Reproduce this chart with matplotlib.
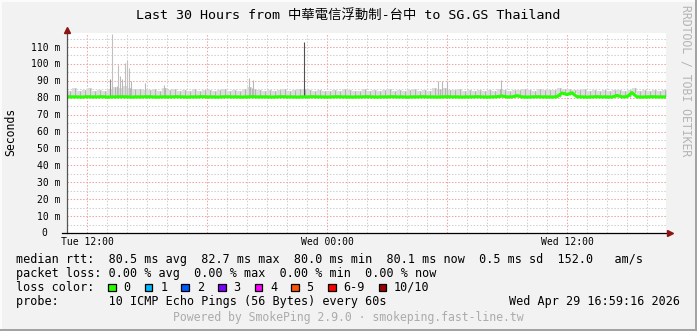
import numpy as np
import pandas as pd
import matplotlib
matplotlib.use("Agg")
import matplotlib.pyplot as plt
import matplotlib.transforms as mtransforms
from matplotlib.patches import Rectangle

W, H = 697, 331

# time axis: 30 hours ending Wed Apr 29 16:59:16 2026, one value every 15 min
start = pd.Timestamp("2026-04-28 10:59:16")
step_h = 0.25

# upper edge of the grey "smoke" (ms)
band_top = [
    84.2, 85.6, 83.9, 84.8, 85.9, 84.1, 84.6, 83.8, 85.2, 86.4, 85.8, 86.8,
    85.6, 84.9, 85.3, 84.4, 84.7, 85.1, 84.0, 85.8, 84.3, 84.9, 83.8, 84.5,
    84.1, 85.2, 83.9, 84.6, 84.8, 84.0, 84.5, 85.0, 83.9, 84.6, 84.2, 85.1,
    86.2, 84.9, 84.3, 84.0, 84.6, 83.8, 84.4, 85.3, 84.1, 84.7, 84.9, 85.4,
    84.3, 83.9, 84.8, 84.2, 83.8, 84.5, 84.1, 84.9, 84.4, 83.7, 84.2, 85.0,
    84.0, 84.6, 83.9, 84.3, 85.1, 84.2, 84.7, 83.9, 84.4, 84.9, 84.1, 84.6,
    84.2, 85.8, 85.2, 86.0, 84.7, 84.3, 84.9, 84.0, 84.5, 83.9, 84.6, 84.2,
    84.8, 84.1, 85.3, 84.4, 84.0, 84.7, 84.3, 84.9, 84.6, 84.2, 85.0, 84.3,
    84.8, 84.5, 85.6, 85.2, 85.4, 84.7, 84.3, 84.9, 84.2, 84.8, 84.0, 84.5,
    84.1, 84.6, 84.3, 84.0, 84.4, 85.5, 84.1, 84.6, 84.2, 84.7, 84.0, 84.4,
    84.3,
]

# median rtt (ms)
median = [
    80.6, 80.5, 80.5, 80.4, 80.6, 80.5, 80.5, 80.6, 80.4, 80.5,
    80.5, 80.6, 80.5, 80.4, 80.5, 80.5, 80.6, 80.5, 80.4, 80.5,
    80.5, 80.5, 80.6, 80.5, 80.4, 80.5, 80.5, 80.6, 80.5, 80.5,
    80.4, 80.5, 80.6, 80.5, 80.5, 80.4, 80.5, 80.6, 80.5, 80.5,
    80.5, 80.4, 80.5, 80.6, 80.5, 80.5, 80.4, 80.5, 80.5, 80.6,
    80.5, 80.5, 80.4, 80.5, 80.6, 80.5, 80.5, 80.4, 80.5, 80.5,
    80.6, 80.5, 80.4, 80.5, 80.5, 80.6, 80.5, 80.5, 80.4, 80.5,
    80.5, 80.6, 80.5, 80.5, 80.4, 80.5, 80.6, 80.5, 80.5, 80.4,
    80.5, 80.5, 80.6, 80.5, 80.4, 80.5, 80.6, 81.0, 80.5, 80.5,
    81.2, 80.5, 80.4, 80.5, 80.6, 80.5, 80.5, 80.4, 80.6, 82.8,
    81.9, 82.9, 80.6, 80.5, 80.4, 80.5, 80.6, 80.5, 80.5, 80.4,
    81.3, 80.5, 80.6, 83.0, 80.5, 80.4, 80.5, 80.6, 80.5, 80.5,
    80.5,
]

# single tall smoke spikes: hours after start, top (ms), shade
spike_hours = [2.15, 2.27, 2.49, 2.57, 2.67, 2.75, 2.92, 2.99, 3.10, 3.20,
               3.90, 4.87, 9.12, 9.23, 9.32, 11.87, 18.54, 18.74, 18.99, 21.69]
spike_tops = [91.0, 117.6, 87.0, 99.2, 93.0, 91.0, 100.4, 102.4, 97.8, 90.0,
              88.6, 87.5, 91.4, 86.0, 90.6, 113.0, 90.0, 90.0, 90.0, 90.6]
spike_colors = ["#909090", "#c0c0c0", "#b8b8b8", "#c0c0c0", "#b8b8b8", "#b8b8b8",
                "#c0c0c0", "#c0c0c0", "#c0c0c0", "#b8b8b8", "#b8b8b8", "#b8b8b8",
                "#b8b8b8", "#b8b8b8", "#b8b8b8", "#505050", "#b8b8b8", "#b8b8b8",
                "#b8b8b8", "#b8b8b8"]

y_major = [0, 10, 20, 30, 40, 50, 60, 70, 80, 90, 100, 110]
y_minor = [5, 15, 25, 35, 45, 55, 65, 75, 85, 95, 105, 115]
y_labels = ["0", "10 m", "20 m", "30 m", "40 m", "50 m", "60 m", "70 m",
            "80 m", "90 m", "100 m", "110 m"]
x_label_times = ["2026-04-28 12:00", "2026-04-29 00:00", "2026-04-29 12:00"]
x_labels = ["Tue 12:00", "Wed 00:00", "Wed 12:00"]

loss_labels = ["0", "1", "2", "3", "4", "5", "6-9", "10/10"]
loss_colors = ["#26ff00", "#00b8ff", "#0059ff", "#7e00ff", "#ff00ff",
               "#ff5500", "#ff0000", "#a10000"]

title = "Last 30 Hours from 中華電信浮動制-台中 to SG.GS Thailand"
line_rtt = "median rtt:  80.5 ms avg  82.7 ms max  80.0 ms min  80.1 ms now  0.5 ms sd  152.0   am/s"
line_loss = "packet loss: 0.00 % avg  0.00 % max  0.00 % min  0.00 % now"
line_probe = "probe:       10 ICMP Echo Pings (56 Bytes) every 60s"
stamp = "Wed Apr 29 16:59:16 2026"
footer = "Powered by SmokePing 2.9.0 · smokeping.fast-line.tw"

MONO = "DejaVu Sans Mono"
BG = "#f2f2f2"


def fx(px):
    return px / W


def fy(py):
    return 1 - py / H


def hours_of(ts):
    return (pd.Timestamp(ts) - start) / pd.Timedelta(hours=1)


fig = plt.figure(figsize=(W / 100, H / 100), dpi=100, facecolor=BG)
ax = fig.add_axes([fx(67), fy(233), 599 / W, 200 / H])
ax.set_facecolor("white")

t = np.arange(len(band_top)) * step_h
# smoke: light haze plus thin darker strands up to the band top
ax.fill_between(t, median, band_top, step="post", color="#dcdcdc", linewidth=0, zorder=2)
ax.vlines(t + step_h / 2, median, band_top, colors="#b4b4b4", linewidth=0.75, zorder=2)
ax.vlines(spike_hours, 81.0, spike_tops, colors=spike_colors, linewidth=0.8, zorder=3)
ax.plot(t, median, color=loss_colors[0], linewidth=2.3, zorder=4)

ax.set_xlim(0, 29.95)
ax.set_ylim(0, 118.3)

# grid: hourly minor, 6-hourly major, 5 ms minor, 10 ms major
first_hour = hours_of(start.ceil("h"))
x_minor = first_hour + np.arange(30)
x_major = first_hour + 1 + 6 * np.arange(5)
major_lbl = {round(hours_of(s), 3): l for s, l in zip(x_label_times, x_labels)}
ax.set_xticks(x_major, [major_lbl.get(round(v, 3), "") for v in x_major])
ax.set_xticks(x_minor, minor=True)
ax.set_yticks(y_major, [""] * len(y_major))
ax.set_yticks(y_minor, minor=True)
ax.grid(which="minor", color="#d0d0d0", linestyle=(0, (1.4, 1.6)), linewidth=0.75)
ax.grid(which="major", color="#f0a4a4", linestyle=(0, (1.4, 1.6)), linewidth=0.75)
ax.set_axisbelow(True)
ax.tick_params(which="both", length=0, pad=3)
ax.tick_params(axis="x", labelsize=7)
for lbl in ax.get_xticklabels():
    lbl.set_family(MONO)
for s in ax.spines.values():
    s.set_visible(False)

# axes lines with arrow heads
ax.plot([0, 0], [0, 1.0], transform=ax.transAxes, color="#555555", lw=0.9, clip_on=False, zorder=6)
ax.plot([-5 / 599, 1.004], [0, 0], transform=ax.transAxes, color="black", lw=0.9, clip_on=False, zorder=6)
ax.plot([0], [1.015], marker="^", markersize=5, color="#8b1515", transform=ax.transAxes, clip_on=False, zorder=7)
ax.plot([1.0075], [0], marker=">", markersize=5, color="#8b1515", transform=ax.transAxes, clip_on=False, zorder=7)

# y tick labels (the "0" keeps rrdtool's trailing-space alignment)
ytrans = mtransforms.blended_transform_factory(fig.transFigure, ax.transData)
ytrans = ytrans + mtransforms.ScaledTranslation(0, -3.5 / 100, fig.dpi_scale_trans)
for v, s in zip(y_major, y_labels):
    xr = 47 if s == "0" else 60
    fig.text(fx(xr), v, s, transform=ytrans, ha="right", va="baseline", fontsize=7, family=MONO)

fig.text(fx(348.5), fy(19), title, ha="center", va="baseline", fontsize=9.6,
         family=[MONO, "Noto Sans CJK TC"])
fig.text(fx(11), fy(132), "Seconds", rotation=90, ha="center", va="center", fontsize=8.3, family=MONO)
fig.text(fx(686), fy(81), "RRDTOOL / TOBI OETIKER", rotation=270, ha="center", va="center",
         fontsize=8.3, family=MONO, color="#b4b4b4")

# legend block
cw = 7.1
fig.text(fx(16), fy(263), line_rtt, ha="left", va="baseline", fontsize=8.5, family=MONO)
fig.text(fx(16), fy(277), line_loss, ha="left", va="baseline", fontsize=8.5, family=MONO)
fig.text(fx(16), fy(291), "loss color:", ha="left", va="baseline", fontsize=8.5, family=MONO)
bx = 16 + 13 * cw
for lab, col in zip(loss_labels, loss_colors):
    fig.add_artist(Rectangle((fx(bx), fy(291.2)), 7.6 / W, 7.6 / H, transform=fig.transFigure,
                             facecolor=col, edgecolor="black", linewidth=0.9))
    lx = bx + 15.3
    fig.text(fx(lx), fy(291), lab, ha="left", va="baseline", fontsize=8.5, family=MONO)
    bx = lx + (len(lab) + 2) * cw
fig.text(fx(16), fy(305), line_probe, ha="left", va="baseline", fontsize=8.5, family=MONO)
fig.text(fx(680), fy(305), stamp, ha="right", va="baseline", fontsize=8.5, family=MONO)
fig.text(fx(348.5), fy(321), footer, ha="center", va="baseline", fontsize=8.3, family=MONO, color="#ababab")

# 3d-ish frame around the image
fig.add_artist(Rectangle((0, fy(2)), 1, 2 / H, transform=fig.transFigure, color="#fbfbfb", lw=0))
fig.add_artist(Rectangle((0, 0), 2 / W, 1, transform=fig.transFigure, color="#fbfbfb", lw=0))
fig.add_artist(Rectangle((fx(695), 0), 2 / W, 1, transform=fig.transFigure, color="#a3a3a3", lw=0))
fig.add_artist(Rectangle((0, 0), 1, 2 / H, transform=fig.transFigure, color="#a3a3a3", lw=0))

fig.savefig("out.png", dpi=100, facecolor=BG)
